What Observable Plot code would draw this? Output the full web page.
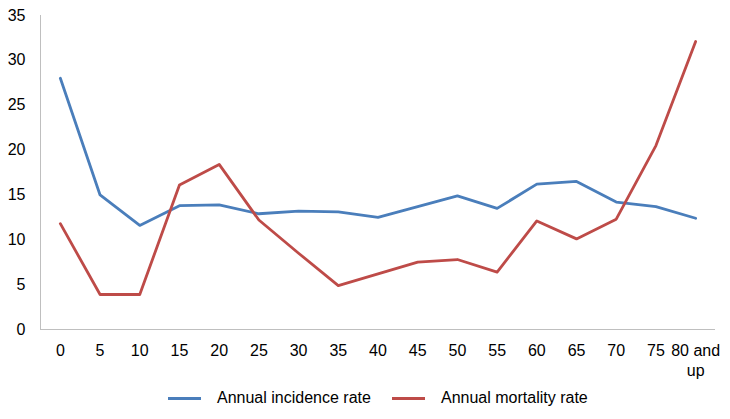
<!DOCTYPE html>
<html>
<head>
<meta charset="utf-8">
<script src="https://cdn.jsdelivr.net/npm/d3@7"></script>
<script src="https://cdn.jsdelivr.net/npm/@observablehq/plot@0.6"></script>
<style>
  body { margin: 0; background: #fff; font-family: "Liberation Sans", Arial, sans-serif; }
  #chart { position: relative; width: 730px; height: 419px; }
  .legend { position: absolute; top: 388px; left: 0; width: 730px; font-size: 16px; color: #000; }
  .item { position: absolute; display: flex; align-items: center; white-space: nowrap; line-height: 20px; }
  .sw { width: 33px; height: 3px; margin-right: 16px; }
</style>
</head>
<body>
<div id="chart"></div>
<script>
const ages = ["0","5","10","15","20","25","30","35","40","45","50","55","60","65","70","75","80 and up"];
const incidence = [28, 15, 11.6, 13.8, 13.9, 12.9, 13.2, 13.1, 12.5, 13.7, 14.9, 13.5, 16.2, 16.5, 14.2, 13.7, 12.4];
const mortality = [11.8, 3.9, 3.9, 16.1, 18.4, 12.2, 8.5, 4.9, 6.2, 7.5, 7.8, 6.4, 12.1, 10.1, 12.3, 20.5, 32.1];
const seriesNames = ["Annual incidence rate", "Annual mortality rate"];
const colors = ["#4a7ebb", "#be4b48"];
const yTicks = [0, 5, 10, 15, 20, 25, 30, 35];

const rows = [];
ages.forEach((a, i) => {
  rows.push({age: a, value: incidence[i], series: seriesNames[0]});
  rows.push({age: a, value: mortality[i], series: seriesNames[1]});
});

const plot = Plot.plot({
  width: 730,
  height: 385,
  marginLeft: 40,
  marginRight: 15,
  marginTop: 15,
  marginBottom: 56,
  style: {fontFamily: "Liberation Sans, Arial, sans-serif", fontSize: "16px", color: "#000"},
  x: {type: "point", domain: ages, padding: 0.5, round: false},
  y: {domain: [0, 35]},
  color: {domain: seriesNames, range: colors},
  marks: [
    Plot.axisY({ticks: yTicks, tickSize: 0, tickPadding: 15, label: null, fontSize: 16}),
    Plot.axisX({tickSize: 0, tickPadding: 12, label: null, fontSize: 16, lineHeight: 1.25,
      tickFormat: d => d === "80 and up" ? "80 and\nup" : d}),
    Plot.frame({anchor: "left", stroke: "#bfbfbf"}),
    Plot.ruleY([0], {stroke: "#bfbfbf"}),
    Plot.line(rows, {x: "age", y: "value", z: "series", stroke: "series", strokeWidth: 2.8})
  ]
});
const chart = document.getElementById("chart");
chart.appendChild(plot);

const legend = document.createElement("div");
legend.className = "legend";
const lefts = [168, 392];
seriesNames.forEach((n, i) => {
  const it = document.createElement("div");
  it.className = "item";
  it.style.left = lefts[i] + "px";
  const sw = document.createElement("span");
  sw.className = "sw";
  sw.style.background = colors[i];
  const t = document.createElement("span");
  t.textContent = n;
  it.appendChild(sw); it.appendChild(t);
  legend.appendChild(it);
});
chart.appendChild(legend);
</script>
</body>
</html>
